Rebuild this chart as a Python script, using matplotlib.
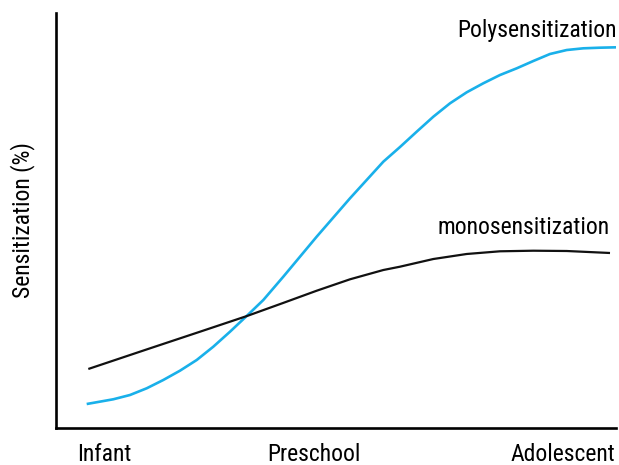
import matplotlib
matplotlib.use("Agg")
import matplotlib.pyplot as plt

plt.rcParams['font.family'] = ['Liberation Sans Narrow', 'Roboto Condensed', 'Liberation Sans', 'DejaVu Sans']

# Stage labels (x positions on a 0-100 developmental scale)
stage_labels = ["Infant", "Preschool", "Adolescent"]
stage_pos = [8.6, 46.1, 90.5]

# Polysensitization curve (sensitization %)
poly_x = [5.48, 10.23, 13.21, 16.20, 19.16, 22.14, 25.13, 28.09, 31.07, 34.05,
          37.02, 40.59, 46.55, 52.50, 58.45, 61.43, 64.41, 67.38, 70.36, 73.34,
          76.30, 79.29, 82.27, 85.23, 88.21, 91.20, 94.16, 97.14, 100.0]
poly_y = [5.78, 6.92, 7.95, 9.57, 11.57, 13.81, 16.39, 19.59, 23.20, 26.99,
          30.84, 36.46, 46.10, 55.35, 64.17, 67.71, 71.40, 75.01, 78.24, 80.89,
          83.06, 85.06, 86.67, 88.43, 90.12, 91.08, 91.49, 91.64, 91.73]

# Monosensitization curve
mono_x = [5.77, 16.79, 25.71, 34.11, 40.54, 46.55, 52.50, 58.45, 61.43, 67.38,
          73.34, 79.29, 85.23, 91.20, 98.93]
mono_y = [14.22, 19.20, 23.20, 26.99, 30.12, 33.08, 35.83, 38.07, 38.87, 40.72,
          41.93, 42.58, 42.72, 42.65, 42.17]

fig = plt.figure(figsize=(6.19, 4.65), dpi=100)
ax = fig.add_axes([56/619, 37/465, 560/619, 415/465])

ax.plot(poly_x, poly_y, color='#19b0ea', lw=1.9, solid_capstyle='butt', solid_joinstyle='round')
ax.plot(mono_x, mono_y, color='#111111', lw=1.6, solid_capstyle='butt', solid_joinstyle='round')

ax.set_xlim(0, 100)
ax.set_ylim(0, 100)

for s in ['top', 'right']:
    ax.spines[s].set_visible(False)
for s in ['left', 'bottom']:
    ax.spines[s].set_linewidth(1.9)
    ax.spines[s].set_color('black')

ax.set_yticks([])
ax.set_xticks(stage_pos)
ax.set_xticklabels(stage_labels, fontsize=17)
ax.tick_params(axis='x', length=0, pad=11)
ax.set_ylabel("Sensitization (%)", fontsize=17, labelpad=15)

ax.text(100.2, (428-37)/4.15, "Polysensitization", ha='right', va='baseline', fontsize=17)
ax.text(98.9, (428-234)/4.15, "monosensitization", ha='right', va='baseline', fontsize=17)

fig.savefig("out.png", dpi=100)
